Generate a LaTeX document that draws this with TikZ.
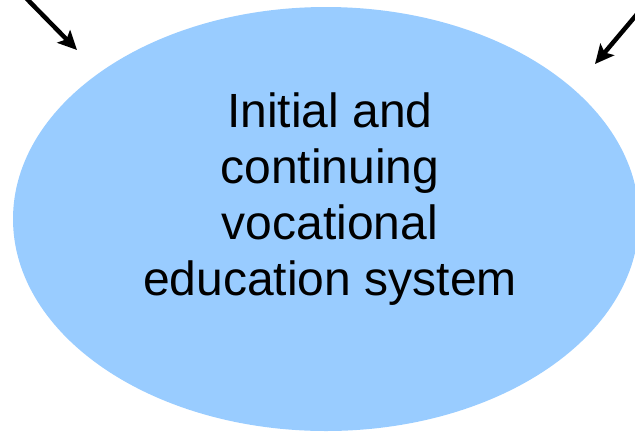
\documentclass[tikz,border=0pt]{standalone}
\usepackage{fontspec}
\setmainfont{Liberation Sans}
\usetikzlibrary{shapes.geometric,arrows.meta}
\definecolor{skyfill}{HTML}{99CCFF}
\tikzset{
  systemblob/.style={ellipse, fill=skyfill, draw=none, inner sep=0pt,
    minimum width=626pt, minimum height=424pt},
  blobtext/.style={align=center, inner sep=0pt,
    font=\fontsize{48}{56}\selectfont},
  feedarrow/.style={line width=4.5pt, -{Stealth[length=19pt,width=18pt,inset=4pt]}}
}
\begin{document}
\begin{tikzpicture}[x=1pt,y=-1pt]
  \useasboundingbox (0,0) rectangle (635,432);
  \node[systemblob] (sys) at (326,219) {};
  \node[blobtext] (label) at (330,199)
    {Initial and\\continuing\\vocational\\education system};
  % incoming influences from outside the frame
  \coordinate (srcL) at (26,-2);
  \coordinate (tipL) at (77,50);
  \coordinate (srcR) at (638,13);
  \coordinate (tipR) at (595,64);
  \draw[feedarrow] (srcL) -- (tipL);
  \draw[feedarrow] (srcR) -- (tipR);
\end{tikzpicture}
\end{document}
